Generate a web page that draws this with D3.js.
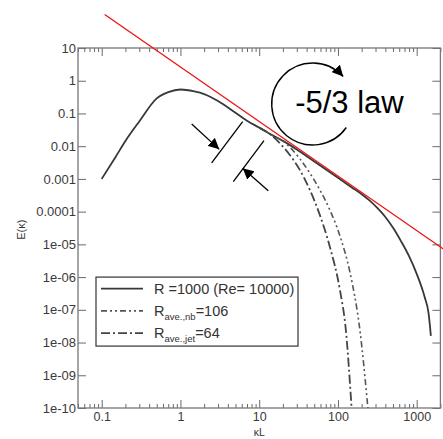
<!DOCTYPE html>
<html>
<head>
<meta charset="utf-8">
<script src="https://cdn.jsdelivr.net/npm/d3@7"></script>
<style>
  body { margin: 0; background: #fff; }
  text { font-family: "Liberation Sans", Arial, sans-serif; }
</style>
</head>
<body>
<div id="chart"></div>
<script>
// energy spectrum E(k) vs kL
const solidK = [0.1, 0.15, 0.2, 0.3, 0.5, 0.7, 1, 1.5, 2, 3, 5, 7, 10, 15, 20, 30, 50, 100, 150, 200, 251, 316, 398, 501, 631, 794, 1000, 1259, 1413, 1514];
const solidE = [1e-3, 4.7e-3, 0.0144, 0.057, 0.29, 0.45, 0.54, 0.47, 0.39, 0.24, 0.105, 0.06, 0.037, 0.021, 0.0145, 0.0079, 0.0034, 1.08e-3, 5.5e-4, 3.4e-4, 2.2e-4, 1.3e-4, 7e-5, 3.2e-5, 1.26e-5, 4.5e-6, 1.26e-6, 2.5e-7, 8e-8, 1.6e-8];

const nbK = [10, 15, 20, 24.5, 32.9, 44, 59, 79, 106, 142, 190, 240];
const nbE = [0.037, 0.021, 0.0145, 9.3e-3, 4.1e-3, 1.5e-3, 4.6e-4, 1.12e-4, 1.8e-5, 1.4e-6, 2.4e-8, 1e-10];

const jetK = [10, 13.7, 18.3, 24.5, 32.9, 44, 59, 79, 106, 126, 149];
const jetE = [0.037, 0.0234, 0.0123, 5.4e-3, 1.86e-3, 4.6e-4, 7.8e-5, 8.3e-6, 4e-7, 2.4e-8, 1e-10];

// -5/3 reference line, end points
const lawK = [0.109, 2200];
const lawE = [106, 7.1e-6];

const xTicks = [0.1, 1, 10, 100, 1000];
const xLabels = ["0.1", "1", "10", "100", "1000"];
const yTicks = [10, 1, 0.1, 0.01, 0.001, 1e-4, 1e-5, 1e-6, 1e-7, 1e-8, 1e-9, 1e-10];
const yLabels = ["10", "1", "0.1", "0.01", "0.001", "0.0001", "1e-05", "1e-06", "1e-07", "1e-08", "1e-09", "1e-10"];

const legendNames = [
    { main: "R =1000 (Re= 10000)", sub: "", tail: "" },
    { main: "R", sub: "ave.,nb", tail: "=106" },
    { main: "R", sub: "ave.,jet", tail: "=64" }
];

// annotation anchors, in data coordinates [k, E]
const barA = [[2.49, 3.1e-3], [6.17, 0.056]];
const barB = [[4.69, 8.2e-4], [11.5, 0.0147]];
const arrowA = [[1.39, 0.0476], [3.11, 8.0e-3]];
const arrowB = [[13.05, 4.36e-4], [6.17, 2.11e-3]];
const circleAt = [47.8, 0.195];
const lawLabelAt = [140, 0.103];

const W = 443, H = 439;
const margin = { top: 48, left: 78 };
const width = 362.4, height = 360;

const svg = d3.select("#chart").append("svg")
    .attr("width", W).attr("height", H);

const x = d3.scaleLog().domain([0.05, 2000]).range([margin.left, margin.left + width]);
const y = d3.scaleLog().domain([1e-10, 10]).range([margin.top + height, margin.top]);

const minorX = x.ticks().filter(v => !xTicks.some(t => Math.abs(t - v) / t < 1e-6));
const minorY = y.ticks().filter(v => !yTicks.some(t => Math.abs(t - v) / t < 1e-6));

const tickColor = "#6a6a6a";

function styleAxis(g, size) {
    g.select(".domain").remove();
    g.selectAll(".tick line").attr("stroke", tickColor).attr("stroke-width", 1);
    g.selectAll(".tick text").attr("fill", "#3a3a3a").attr("font-size", size || 13)
        .attr("font-family", "'Liberation Sans', Arial, sans-serif");
}

// bottom
svg.append("g").attr("transform", `translate(0,${margin.top + height})`)
    .call(d3.axisBottom(x).tickValues(xTicks).tickSize(-8).tickPadding(4).tickFormat((d, i) => xLabels[i]))
    .call(styleAxis, 12.5);
svg.append("g").attr("transform", `translate(0,${margin.top + height})`)
    .call(d3.axisBottom(x).tickValues(minorX).tickSize(-4).tickFormat(""))
    .call(styleAxis);
// top
svg.append("g").attr("transform", `translate(0,${margin.top})`)
    .call(d3.axisTop(x).tickValues(xTicks).tickSize(-8).tickFormat(""))
    .call(styleAxis);
svg.append("g").attr("transform", `translate(0,${margin.top})`)
    .call(d3.axisTop(x).tickValues(minorX).tickSize(-4).tickFormat(""))
    .call(styleAxis);
// left
svg.append("g").attr("transform", `translate(${margin.left},0)`)
    .call(d3.axisLeft(y).tickValues(yTicks).tickSize(-8).tickPadding(2).tickFormat((d, i) => yLabels[i]))
    .call(styleAxis);
svg.append("g").attr("transform", `translate(${margin.left},0)`)
    .call(d3.axisLeft(y).tickValues(minorY).tickSize(-4).tickFormat(""))
    .call(styleAxis);
// right
svg.append("g").attr("transform", `translate(${margin.left + width},0)`)
    .call(d3.axisRight(y).tickValues(yTicks).tickSize(-8).tickFormat(""))
    .call(styleAxis);
svg.append("g").attr("transform", `translate(${margin.left + width},0)`)
    .call(d3.axisRight(y).tickValues(minorY).tickSize(-4).tickFormat(""))
    .call(styleAxis);

// frame
svg.append("rect")
    .attr("x", margin.left).attr("y", margin.top)
    .attr("width", width).attr("height", height)
    .attr("fill", "none").attr("stroke", "#777").attr("stroke-width", 1.3);

// axis titles
svg.append("text")
    .attr("transform", `translate(25,${y(1e-4) + 18}) rotate(-90)`)
    .attr("text-anchor", "middle").attr("font-size", 11).attr("fill", "#333")
    .text("E(κ)");
svg.append("text")
    .attr("x", x(10)).attr("y", H - 3)
    .attr("text-anchor", "middle").attr("font-size", 10.5).attr("fill", "#333")
    .text("κL");

// spectra
const line = d3.line().x(d => x(d[0])).y(d => y(d[1])).curve(d3.curveMonotoneX);
const series = [
    { k: solidK, e: solidE, color: "#383838", width: 1.8, dash: null },
    { k: nbK, e: nbE, color: "#555", width: 1.6, dash: "6,3,2,3,2,3" },
    { k: jetK, e: jetE, color: "#444", width: 1.8, dash: "9,3,2,3" }
];

svg.append("clipPath").attr("id", "plotclip")
    .append("rect").attr("x", margin.left).attr("y", margin.top)
    .attr("width", width).attr("height", height);

const plot = svg.append("g").attr("clip-path", "url(#plotclip)");
series.forEach(s => {
    plot.append("path")
        .datum(s.k.map((k, i) => [k, s.e[i]]))
        .attr("fill", "none")
        .attr("stroke", s.color)
        .attr("stroke-width", s.width)
        .attr("stroke-dasharray", s.dash)
        .attr("d", line);
});

// -5/3 law line (drawn past the frame)
svg.append("path")
    .datum(lawK.map((k, i) => [k, lawE[i]]))
    .attr("fill", "none").attr("stroke", "#ee1111").attr("stroke-width", 1.3)
    .attr("d", d3.line().x(d => x(d[0])).y(d => y(d[1])));

// legend
const lg = svg.append("g").attr("transform", `translate(96,${y(1e-6)})`);
lg.append("rect").attr("width", 202).attr("height", 69)
    .attr("fill", "#fff").attr("stroke", "#333").attr("stroke-width", 1.2);
legendNames.forEach((n, i) => {
    const s = series[i];
    const ly = 11.5 + i * 22.3;
    lg.append("line").attr("x1", 5).attr("x2", 47).attr("y1", ly).attr("y2", ly)
        .attr("stroke", s.color).attr("stroke-width", s.width)
        .attr("stroke-dasharray", s.dash);
    const t = lg.append("text").attr("x", 58).attr("y", ly + 5)
        .attr("font-size", 14.5).attr("fill", "#333");
    t.append("tspan").text(n.main);
    if (n.sub) {
        t.append("tspan").attr("font-size", 9.5).attr("dy", 4).text(n.sub);
        t.append("tspan").attr("dy", -4).text(n.tail);
    }
});

// arrow head marker
svg.append("defs").append("marker")
    .attr("id", "head").attr("viewBox", "0 0 10 10")
    .attr("refX", 10).attr("refY", 5)
    .attr("markerWidth", 11).attr("markerHeight", 11)
    .attr("markerUnits", "userSpaceOnUse")
    .attr("orient", "auto")
    .append("path").attr("d", "M0,0L10,5L0,10z").attr("fill", "#000");

// gap bars and arrows
[barA, barB].forEach(b => {
    svg.append("line")
        .attr("x1", x(b[0][0])).attr("y1", y(b[0][1]))
        .attr("x2", x(b[1][0])).attr("y2", y(b[1][1]))
        .attr("stroke", "#000").attr("stroke-width", 1.3);
});
[arrowA, arrowB].forEach(a => {
    svg.append("line")
        .attr("x1", x(a[0][0])).attr("y1", y(a[0][1]))
        .attr("x2", x(a[1][0])).attr("y2", y(a[1][1]))
        .attr("stroke", "#000").attr("stroke-width", 1.3)
        .attr("marker-end", "url(#head)");
});

// circular arrow and label
const cx = x(circleAt[0]), cy = y(circleAt[1]), r = 41;
const a0 = 35 * Math.PI / 180, a1 = (360 - 42) * Math.PI / 180;
const arcPath = d3.path();
arcPath.arc(cx, cy, r, a0, a1, false);
svg.append("path").attr("d", arcPath.toString())
    .attr("fill", "none").attr("stroke", "#000").attr("stroke-width", 1.4)
    .attr("marker-end", "url(#head)");

svg.append("text")
    .attr("x", x(lawLabelAt[0])).attr("y", y(lawLabelAt[1]))
    .attr("text-anchor", "middle").attr("font-size", 31).attr("fill", "#000")
    .text("-5/3 law");
</script>
</body>
</html>
